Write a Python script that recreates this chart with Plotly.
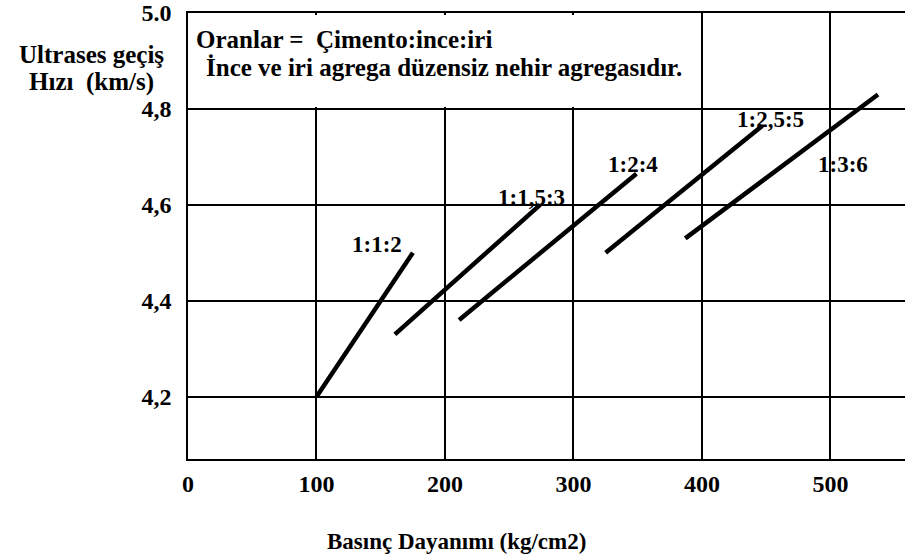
import plotly.graph_objects as go

# mix ratios (cement : fine : coarse) and the end points of each line
oranlar = ['1:1:2', '1:1,5:3', '1:2:4', '1:2,5:5', '1:3:6']
basinc = [[100, 175], [161, 274], [211, 349], [325, 447], [387, 537]]      # kg/cm2
hiz = [[4.20, 4.50], [4.33, 4.60], [4.36, 4.665], [4.50, 4.765], [4.53, 4.83]]  # km/s

# where each ratio label sits
etiket_x = [147, 267, 346, 453, 510]
etiket_y = [4.517, 4.615, 4.684, 4.778, 4.684]

x_ticks = [0, 100, 200, 300, 400, 500]
y_ticks = [4.2, 4.4, 4.6, 4.8, 5.0]
y_ticktext = ['4,2', '4,4', '4,6', '4,8', '5.0']

serif = 'Times New Roman, Liberation Serif, serif'

fig = go.Figure()
for ad, xs, ys in zip(oranlar, basinc, hiz):
    fig.add_scatter(x=xs, y=ys, mode='lines', name=ad,
                    line=dict(color='black', width=4.5), showlegend=False)

for ad, ex, ey in zip(oranlar, etiket_x, etiket_y):
    fig.add_annotation(x=ex, y=ey, text=ad, showarrow=False, xanchor='center', yanchor='middle',
                       font=dict(family=serif, size=23, color='black', weight='bold'))

# white panel for the note at the top left (hides the grid there)
fig.add_shape(type='rect', x0=1.5, x1=395, y0=4.804, y1=4.996,
              fillcolor='white', line=dict(width=0), layer='above')

fig.add_annotation(x=4.9, y=4.945, text='Oranlar =  Çimento:ince:iri', showarrow=False,
                   xanchor='left', yanchor='middle',
                   font=dict(family=serif, size=25, color='black', weight='bold'))
fig.add_annotation(x=12.7, y=4.887, text='İnce ve iri agrega düzensiz nehir agregasıdır.',
                   showarrow=False, xanchor='left', yanchor='middle',
                   font=dict(family=serif, size=25, color='black', weight='bold'))

# axis titles
baslik = dict(family=serif, size=25, color='black', weight='bold')
fig.add_annotation(xref='paper', yref='paper', x=-0.134, y=0.908, text='Ultrases geçiş',
                   xanchor='center', yanchor='middle', showarrow=False, font=baslik)
fig.add_annotation(xref='paper', yref='paper', x=-0.134, y=0.846, text='Hızı  (km/s)',
                   xanchor='center', yanchor='middle', showarrow=False, font=baslik)
fig.add_annotation(xref='paper', yref='paper', x=0.375, y=-0.186, text='Basınç Dayanımı (kg/cm2)',
                   xanchor='center', yanchor='middle', showarrow=False,
                   font=dict(family=serif, size=23, color='black', weight='bold'))

fig.update_xaxes(range=[0, 558], tickvals=x_ticks, showgrid=True, gridcolor='black', gridwidth=1.5,
                 zeroline=False, showline=True, linecolor='black', linewidth=1.5, mirror=True,
                 ticks='', ticklabelstandoff=2,
                 tickfont=dict(family=serif, size=24, color='black', weight='bold'))
fig.update_yaxes(range=[4.07, 5.0], tickvals=y_ticks, ticktext=y_ticktext, showgrid=True,
                 gridcolor='black', gridwidth=1.5, zeroline=False, showline=True,
                 linecolor='black', linewidth=1.5, ticks='', ticklabelstandoff=10,
                 ticklabeloverflow='allow',
                 tickfont=dict(family=serif, size=24, color='black', weight='bold'))

fig.update_layout(width=905, height=556, margin=dict(l=188, r=0, t=10, b=97),
                  plot_bgcolor='white', paper_bgcolor='white')

fig.write_html('out.html', config={'displayModeBar': False},
               post_script="document.body.style.margin='0';")
